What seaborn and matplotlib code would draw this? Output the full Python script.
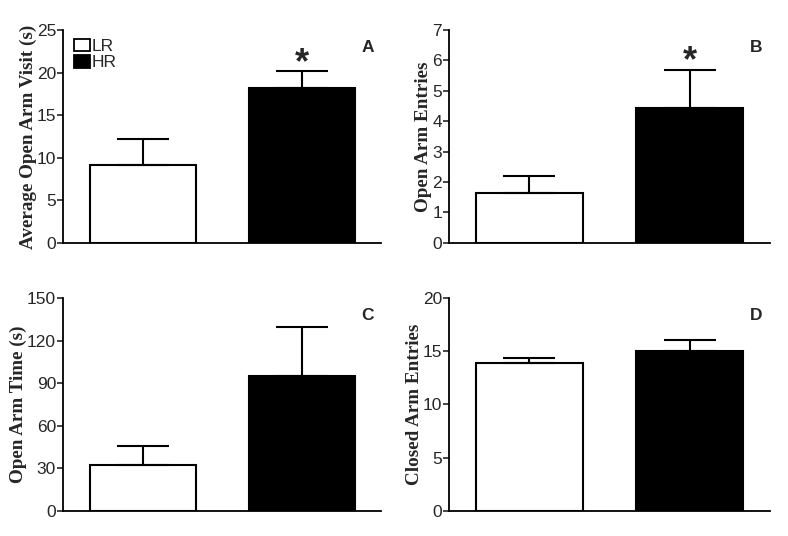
import matplotlib
matplotlib.use("Agg")
import matplotlib.pyplot as plt
import seaborn as sns
from matplotlib.patches import Patch

# group names and values (mean and SEM)
groups = ["LR", "HR"]
colors = ["white", "black"]

visit_mean = [9.1, 18.2]
visit_sem = [3.1, 2.0]

entries_mean = [1.63, 4.43]
entries_sem = [0.57, 1.27]

time_mean = [32.6, 95.3]
time_sem = [13.0, 34.3]

closed_mean = [13.85, 15.05]
closed_sem = [0.55, 1.0]

panels = [
    ("A", visit_mean, visit_sem, "Average Open Arm Visit (s)", 25, [0, 5, 10, 15, 20, 25], True),
    ("B", entries_mean, entries_sem, "Open Arm Entries", 7, list(range(8)), True),
    ("C", time_mean, time_sem, "Open Arm Time (s)", 150, [0, 30, 60, 90, 120, 150], False),
    ("D", closed_mean, closed_sem, "Closed Arm Entries", 20, [0, 5, 10, 15, 20], False),
]

sns.set_style("ticks")
plt.rcParams["font.family"] = ["Liberation Sans", "DejaVu Sans"]

fig = plt.figure(figsize=(7.88, 5.36), dpi=100)
# axes boxes [left, bottom, width, height] in figure fraction
boxes = [
    [0.080, 0.547, 0.404, 0.397],
    [0.570, 0.547, 0.407, 0.397],
    [0.080, 0.047, 0.404, 0.397],
    [0.570, 0.047, 0.407, 0.397],
]

for box, (letter, means, sems, ylab, ytop, yticks, star) in zip(boxes, panels):
    ax = fig.add_axes(box)
    sns.barplot(x=groups, y=means, hue=groups, palette=colors, width=0.667,
                edgecolor="black", linewidth=1.5, legend=False, ax=ax, zorder=2)
    # only the upper half of the error bar, like the original
    ax.errorbar([0, 1], means, yerr=[[0, 0], sems], fmt="none", ecolor="black",
                elinewidth=1.5, capsize=19, capthick=1.5, zorder=3)
    ax.set_xlim(-0.5, 1.5)
    ax.set_ylim(0, ytop)
    ax.set_yticks(yticks)
    ax.set_xticks([])
    ax.tick_params(axis="y", labelsize=12.5, length=4, width=1.2, pad=1)
    for s in ["top", "right"]:
        ax.spines[s].set_visible(False)
    for s in ["left", "bottom"]:
        ax.spines[s].set_linewidth(1.3)
        ax.spines[s].set_color("black")
    ax.set_ylabel(ylab, fontsize=13.8, fontweight="bold", family="Liberation Serif", labelpad=0)
    ax.text(0.957, 0.92, letter, transform=ax.transAxes, fontsize=12.5, fontweight="bold",
            ha="center", va="center")
    if star:
        ax.text(1, means[1] + sems[1] - ytop * 0.01, "*", fontsize=26, fontweight="bold",
                ha="center", va="baseline")
    if letter == "A":
        handles = [Patch(facecolor=c, edgecolor="black", linewidth=1.3) for c in colors]
        ax.legend(handles, groups, loc="upper left", bbox_to_anchor=(0.035, 0.96), frameon=False,
                  fontsize=12.5, handlelength=0.9, handleheight=0.75, handletextpad=0.1,
                  labelspacing=0.05, borderaxespad=0, borderpad=0)

fig.savefig("out.png", dpi=100)
